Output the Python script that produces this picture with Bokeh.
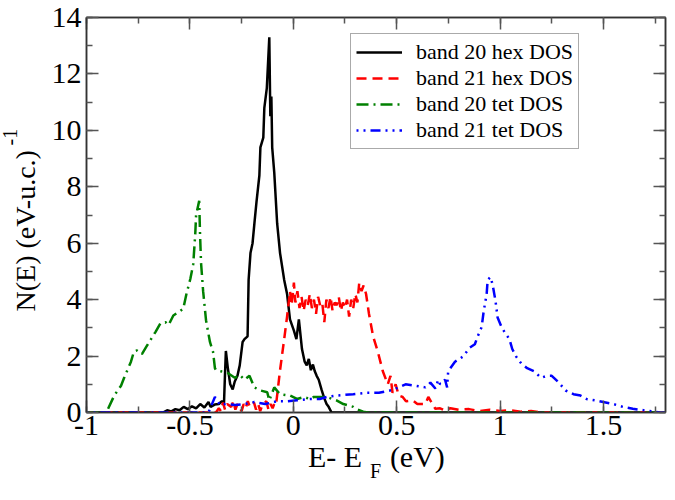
from bokeh.plotting import figure
from bokeh.models import LinearAxis, Range1d, FixedTicker
from bokeh.embed import file_html
from bokeh.resources import INLINE

# ---- data (E - E_F in eV, DOS in (eV-u.c.)^-1) ----
e_b20_hex = [-1.0, -0.63, -0.61, -0.59, -0.57, -0.55, -0.53, -0.51, -0.49, -0.47, -0.45, -0.43, -0.41, -0.40,
             -0.38, -0.36, -0.345, -0.335, -0.331, -0.326, -0.317, -0.305, -0.293, -0.283, -0.27, -0.259, -0.245,
             -0.236, -0.221, -0.216, -0.207, -0.197, -0.188, -0.178, -0.164, -0.159, -0.145, -0.140, -0.128,
             -0.116, -0.111, -0.106, -0.102, -0.092, -0.078, -0.064, -0.044, -0.030, -0.016, 0.003, 0.015, 0.027,
             0.042, 0.055, 0.065, 0.075, 0.085, 0.095, 0.104, 0.113, 0.123, 0.137, 0.150, 0.161, 0.171, 0.185, 1.8]
n_b20_hex = [0, 0, 0.08, 0.04, 0.12, 0.08, 0.2, 0.12, 0.22, 0.15, 0.3, 0.18, 0.37, 0.2,
             0.28, 0.3, 0.4, 0.35, 1.2, 2.18, 1.6, 1.0, 0.82, 1.1, 1.3, 1.67, 2.5,
             2.6, 2.7, 4.7, 5.65, 6.0, 6.7, 7.46, 8.4, 9.4, 9.74, 10.8, 11.5,
             13.3, 10.5, 11.2, 9.4, 8.5, 6.7, 5.65, 4.7, 4.2, 3.3, 2.9, 2.6, 3.3,
             2.25, 1.8, 1.67, 1.9, 1.5, 1.7, 1.46, 1.3, 1.16, 0.8, 0.5, 0.3, 0.2, 0, 0]

e_b21_hex = [-1.0, -0.374, -0.36, -0.35, -0.34, -0.33, -0.32, -0.30, -0.29, -0.28, -0.27, -0.25, -0.24, -0.23,
             -0.22, -0.21, -0.19, -0.18, -0.17, -0.16, -0.15, -0.13, -0.12, -0.11, -0.10, -0.09, -0.083, -0.064,
             -0.044, -0.030, -0.016, -0.008, 0.003, 0.01, 0.02, 0.03, 0.04, 0.05, 0.06, 0.07, 0.08, 0.09, 0.10,
             0.11, 0.12, 0.13, 0.14, 0.15, 0.16, 0.17, 0.18, 0.19, 0.20, 0.21, 0.22, 0.23, 0.24, 0.25, 0.26, 0.27,
             0.28, 0.29, 0.30, 0.31, 0.319, 0.33, 0.34, 0.352, 0.366, 0.386, 0.409, 0.433, 0.457, 0.47, 0.48,
             0.495, 0.51, 0.529, 0.545, 0.577, 0.60, 0.639, 0.653, 0.687, 0.71, 0.73, 0.76, 0.80, 0.85, 0.90,
             0.95, 1.0, 1.05, 1.1, 1.15, 1.2, 1.8]
n_b21_hex = [0, 0, 0.15, 0.05, 0.35, 0.1, 0.3, 0.2, 0.4, 0.1, 0.3, 0.05, 0.3, 0.15,
             0.4, 0.2, 0.35, 0.1, 0.3, 0.05, 0.25, 0.4, 0.1, 0.3, 0.15, 0.35, 0.3, 1.5,
             2.6, 3.4, 4.3, 3.8, 4.6, 3.9, 4.3, 3.7, 4.1, 3.6, 4.0, 3.8, 4.2, 3.7, 4.0,
             3.5, 4.1, 3.8, 3.9, 3.2, 4.0, 3.7, 4.1, 3.6, 3.9, 3.8, 4.1, 3.6, 3.9, 3.7, 4.0, 3.4,
             4.0, 3.7, 4.2, 3.9, 4.6, 4.3, 4.5, 4.2, 3.5, 2.7, 2.15, 1.46, 1.0, 1.3, 0.7,
             1.0, 0.6, 0.55, 0.4, 0.43, 0.3, 0.3, 0.55, 0.13, 0.15, 0.08, 0.15, 0.1, 0.12, 0.05,
             0.1, 0.05, 0.08, 0.03, 0.05, 0, 0]

e_b20_tet = [-1.0, -0.904, -0.866, -0.833, -0.818, -0.785, -0.771, -0.756, -0.732, -0.709, -0.666, -0.642,
             -0.618, -0.603, -0.580, -0.546, -0.532, -0.517, -0.498, -0.484, -0.474, -0.470, -0.455, -0.451,
             -0.446, -0.436, -0.422, -0.403, -0.388, -0.379, -0.374, -0.350, -0.317, -0.283, -0.259, -0.236,
             -0.212, -0.188, -0.159, -0.126, -0.116, -0.092, -0.064, -0.016, 0.018, 0.051, 0.080, 0.099,
             0.161, 0.209, 0.242, 0.290, 0.304, 0.338, 0.36, 1.8]
n_b20_tet = [0, 0, 0.6, 0.95, 1.23, 1.8, 2.15, 2.2, 2.07, 2.35, 2.86, 3.17,
             3.2, 3.1, 3.44, 3.6, 3.68, 4.19, 4.73, 5.25, 6.33, 7.0, 7.5, 6.33,
             5.3, 4.3, 3.27, 2.5, 2.15, 1.57, 1.5, 1.46, 1.4, 1.23, 1.33, 1.16,
             1.3, 0.89, 0.78, 0.72, 0.43, 0.89, 0.65, 0.6, 0.48, 0.55, 0.48, 0.55,
             0.55, 0.43, 0.3, 0.2, 0.13, 0.03, 0, 0]

e_b21_tet = [-1.0, -0.41, -0.379, -0.355, -0.326, -0.279, -0.236, -0.188, -0.135, -0.078, -0.030, 0.018,
             0.080, 0.128, 0.161, 0.209, 0.290, 0.352, 0.414, 0.481, 0.543, 0.591, 0.639, 0.663, 0.687,
             0.701, 0.710, 0.734, 0.744, 0.749, 0.782, 0.820, 0.854, 0.878, 0.892, 0.911, 0.921, 0.935,
             0.940, 0.954, 0.964, 0.978, 0.988, 1.007, 1.021, 1.045, 1.059, 1.078, 1.102, 1.131, 1.164,
             1.198, 1.226, 1.250, 1.284, 1.317, 1.355, 1.389, 1.418, 1.461, 1.499, 1.547, 1.594, 1.642,
             1.704, 1.747, 1.771, 1.8]
n_b21_tet = [0, 0, 0.55, 0.27, 0.3, 0.27, 0.3, 0.37, 0.3, 0.4, 0.4, 0.43,
             0.48, 0.48, 0.55, 0.6, 0.65, 0.7, 0.7, 0.8, 1.0, 0.95, 0.89, 1.06, 0.85,
             1.16, 1.0, 1.16, 0.89, 1.46, 1.8, 1.98, 2.3, 2.42, 2.7, 3.03, 3.6, 4.19,
             4.7, 4.8, 4.53, 3.95, 3.37, 3.03, 2.86, 2.6, 2.25, 1.98, 1.74, 1.57, 1.46,
             1.23, 1.3, 1.3, 1.06, 0.78, 0.65, 0.6, 0.48, 0.43, 0.37, 0.3, 0.2, 0.13,
             0.07, 0.03, 0, 0]

series_labels = ["band 20 hex DOS", "band 21 hex DOS", "band 20 tet DOS", "band 21 tet DOS"]

x_major = [-1, -0.5, 0, 0.5, 1, 1.5]
x_major_text = ["-1", "-0.5", "0", "0.5", "1", "1.5"]
x_minor = [-1, -0.75, -0.5, -0.25, 0, 0.25, 0.5, 0.75, 1, 1.25, 1.5, 1.75]
y_major = [0, 2, 4, 6, 8, 10, 12, 14]
y_minor = list(range(0, 15))

x_title_parts = ["E- E", "F", "(eV)"]
y_title_parts = ["N(E) (eV-u.c.)", "-1"]

FONT = "Liberation Serif"

p = figure(width=667, height=484, output_backend="svg", toolbar_location=None,
           x_range=Range1d(-1, 1.8), y_range=Range1d(0, 14),
           min_border_left=86, min_border_right=2, min_border_top=17, min_border_bottom=10)
p.grid.visible = False
p.background_fill_color = "white"
p.border_fill_color = "white"
p.outline_line_color = "#333333"
p.outline_line_width = 1.5

bx = p.below[0]
ly = p.left[0]
top_ax = LinearAxis()
right_ax = LinearAxis()
p.add_layout(top_ax, "above")
p.add_layout(right_ax, "right")

for ax in [bx, top_ax]:
    ax.ticker = FixedTicker(ticks=x_major, minor_ticks=x_minor)
    ax.major_label_overrides = {k: v for k, v in zip(x_major, x_major_text)}
for ax in [ly, right_ax]:
    ax.ticker = FixedTicker(ticks=y_major, minor_ticks=y_minor)

for ax in [bx, ly, top_ax, right_ax]:
    ax.axis_line_color = "#333333"
    ax.axis_line_width = 1.5
    ax.major_tick_in = 12
    ax.major_tick_out = 0
    ax.minor_tick_in = 6
    ax.minor_tick_out = 0
    ax.major_tick_line_color = "#555555"
    ax.minor_tick_line_color = "#555555"
    ax.major_tick_line_width = 1.5
    ax.minor_tick_line_width = 1.5
    ax.major_label_text_font = FONT
    ax.major_label_text_font_size = "30px"
    ax.major_label_text_color = "black"

bx.major_label_standoff = 3
ly.major_label_standoff = 5
for ax in [top_ax, right_ax]:
    ax.major_label_text_font_size = "0px"
    ax.major_label_text_color = None
    ax.major_label_text_alpha = 0
    ax.major_label_standoff = 0


def title_axis(place, ticks, texts, size, standoff, orientation="horizontal"):
    ax = LinearAxis(ticker=FixedTicker(ticks=ticks, minor_ticks=[]),
                    major_label_overrides={k: v for k, v in zip(ticks, texts)},
                    axis_line_color=None, major_tick_line_color=None, minor_tick_line_color=None,
                    major_tick_in=0, major_tick_out=0, minor_tick_in=0, minor_tick_out=0,
                    major_label_text_font=FONT, major_label_text_font_size=size,
                    major_label_text_color="black", major_label_standoff=standoff,
                    major_label_orientation=orientation)
    p.add_layout(ax, place)
    return ax


# axis titles built from positioned label pieces (main text, sub/superscript)
title_axis("below", [0.202, 0.600], [x_title_parts[0], x_title_parts[2]], "30px", 2)
title_axis("below", [0.398], [x_title_parts[1]], "20px", -16)
title_axis("left", [6.44], [y_title_parts[0]], "28px", 7, "parallel")
title_axis("left", [9.76], [y_title_parts[1]], "20px", -10, "parallel")

p.line(e_b20_hex, n_b20_hex, line_color="black", line_width=2.5, legend_label=series_labels[0])
p.line(e_b21_hex, n_b21_hex, line_color="red", line_width=2.5, line_dash="10 6", legend_label=series_labels[1])
p.line(e_b20_tet, n_b20_tet, line_color="green", line_width=2.5, line_dash="12 5 2 5", legend_label=series_labels[2])
p.line(e_b21_tet, n_b21_tet, line_color="blue", line_width=2.5, line_dash="2 5 2 5 10 5", legend_label=series_labels[3])

leg = p.legend[0]
leg.location = (264, 263)
leg.margin = 0
leg.padding = 5
leg.spacing = 0
leg.glyph_width = 46
leg.glyph_height = 20
leg.label_height = 20
leg.label_standoff = 14
leg.label_text_font = FONT
leg.label_text_font_size = "22px"
leg.label_text_color = "black"
leg.border_line_color = "#555555"
leg.border_line_width = 1.5
leg.background_fill_color = "white"
leg.background_fill_alpha = 1.0

open("out.html", "w").write(file_html(p, INLINE))
